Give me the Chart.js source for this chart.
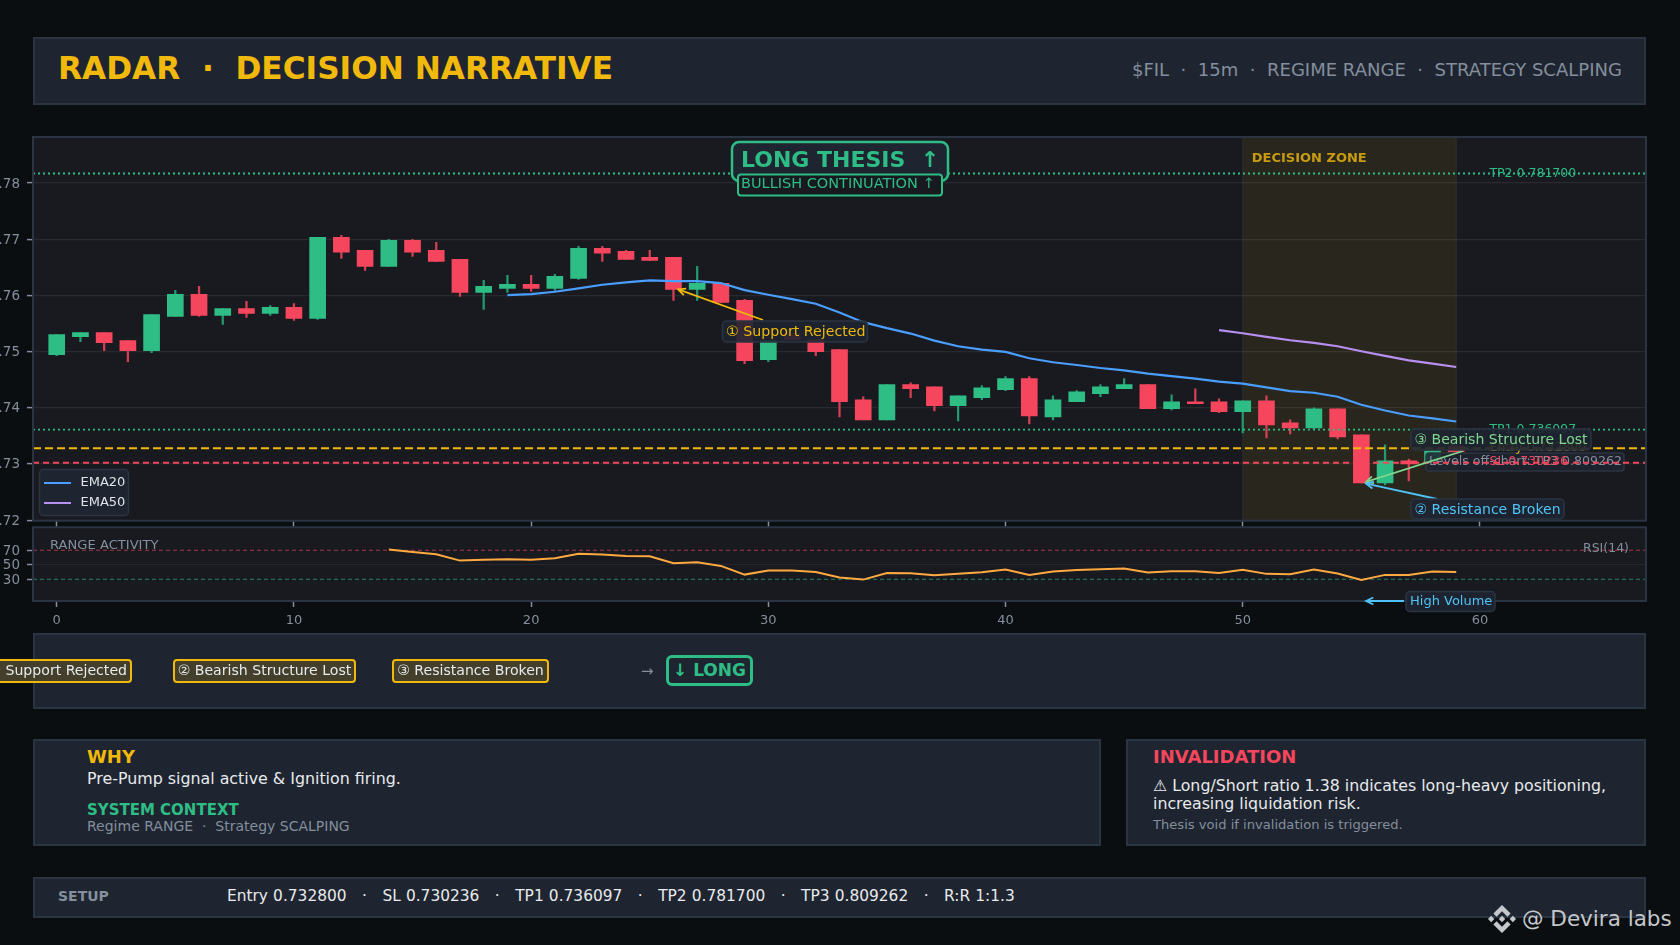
<!DOCTYPE html>
<html><head><meta charset="utf-8">
<script src="https://cdn.jsdelivr.net/npm/chart.js@4"></script>
<style>
html,body{margin:0;padding:0;width:1680px;height:945px;background:#0b0e11;overflow:hidden;font-family:"DejaVu Sans",sans-serif}
.card{position:absolute;box-sizing:border-box;background:#1e2530;border:2px solid #2b3442}
.t{position:absolute;white-space:pre;line-height:1;transform:translateY(-50%)}
canvas{position:absolute;left:0}
.pill{position:absolute;box-sizing:border-box;border:2px solid #f0b90b;border-radius:4px;background:#433f2b;color:#e8eaed;font-size:14.1px;display:flex;align-items:center;justify-content:center;white-space:pre;top:659px;height:24px;padding-bottom:2px}
</style></head><body>
<div class="card" style="left:33px;top:37px;width:1613px;height:68px"></div>
<div class="t" style="left:58px;top:69px;font-size:31.2px;font-weight:bold;color:#f0b90b">RADAR  ·  DECISION NARRATIVE</div>
<div class="t" style="right:58px;top:70px;font-size:18.05px;color:#848e9c">$FIL  ·  15m  ·  REGIME RANGE  ·  STRATEGY SCALPING</div>

<canvas id="main" width="1680" height="407" style="top:120px;width:1680px;height:407px"></canvas>
<canvas id="rsi" width="1680" height="115" style="top:520px;width:1680px;height:115px"></canvas>

<div class="card" style="left:33px;top:633px;width:1613px;height:76px"></div>
<div class="pill" style="left:-20px;width:152px;justify-content:flex-end;padding-right:3px">① Support Rejected</div>
<div class="pill" style="left:173px;width:183px">② Bearish Structure Lost</div>
<div class="pill" style="left:392px;width:157px">③ Resistance Broken</div>
<div class="t" style="left:641px;top:671px;font-size:15px;color:#848e9c">→</div>
<div class="pill" style="left:666px;top:655px;width:87px;height:31px;border:3px solid #2ebd85;border-radius:6px;background:#1e2530;color:#2ebd85;font-weight:bold;font-size:17px;padding-bottom:1px">↓ LONG</div>

<div class="card" style="left:33px;top:739px;width:1068px;height:107px"></div>
<div class="t" style="left:87px;top:757px;font-size:18px;font-weight:bold;color:#f0b90b">WHY</div>
<div class="t" style="left:87px;top:779px;font-size:15.85px;color:#e8eaed">Pre-Pump signal active &amp; Ignition firing.</div>
<div class="t" style="left:87px;top:810px;font-size:15px;font-weight:bold;color:#2ebd85">SYSTEM CONTEXT</div>
<div class="t" style="left:87px;top:826px;font-size:14px;color:#848e9c">Regime RANGE  ·  Strategy SCALPING</div>

<div class="card" style="left:1126px;top:739px;width:520px;height:107px"></div>
<div class="t" style="left:1153px;top:757px;font-size:18px;font-weight:bold;color:#f6465d">INVALIDATION</div>
<div class="t" style="left:1153px;top:786px;font-size:15.8px;color:#e8eaed">⚠ Long/Short ratio 1.38 indicates long-heavy positioning,</div>
<div class="t" style="left:1153px;top:804px;font-size:15.8px;color:#e8eaed">increasing liquidation risk.</div>
<div class="t" style="left:1153px;top:825px;font-size:13.1px;color:#848e9c">Thesis void if invalidation is triggered.</div>

<div class="card" style="left:33px;top:877px;width:1613px;height:41px"></div>
<div class="t" style="left:58px;top:896px;font-size:14px;font-weight:bold;color:#848e9c">SETUP</div>
<div class="t" style="left:227px;top:897px;font-size:15.4px;word-spacing:.27px;color:#e8eaed">Entry 0.732800   ·   SL 0.730236   ·   TP1 0.736097   ·   TP2 0.781700   ·   TP3 0.809262   ·   R:R 1:1.3</div>

<svg style="position:absolute;left:1488px;top:905px" width="28" height="28" viewBox="0 0 126.61 126.61"><path fill="#c4c8cc" d="M38.73 53.2l24.59-24.58 24.6 24.6 14.3-14.31L63.32 0 24.43 38.89 38.73 53.2zM0 63.31l14.3-14.31 14.31 14.31-14.31 14.3zM38.73 73.41l24.59 24.59 24.6-24.6 14.31 14.29-38.9 38.91-38.91-38.88-.02-.02 14.33-14.29zM98.01 63.31l14.3-14.3 14.3 14.3-14.3 14.3zM77.83 63.3L63.32 48.78 52.59 59.51l-1.24 1.23-2.54 2.54 14.51 14.5 14.5-14.47.01-.01z"/></svg>
<div class="t" style="left:1522px;top:919px;font-size:21.5px;color:#c4c8cc">@ Devira labs</div>

<script>
const opens=[.74946,.75268,.75339,.75196,.75018,.75625,.76018,.75643,.75768,.75679,.75786,.75589,.77036,.76804,.76518,.76982,.76804,.76643,.76054,.76125,.76196,.76125,.76304,.76839,.76786,.76679,.76679,.76107,.76214,.75911,.74857,.75321,.75214,.75036,.74143,.73786,.74411,.74375,.74036,.74179,.74321,.74518,.73839,.74107,.7425,.74339,.74411,.73982,.74107,.74107,.73929,.74125,.73732,.73643,.73982,.73518,.72661,.73054,.73012,.73321];
const closes=[.75304,.75339,.75161,.75018,.75661,.76018,.75643,.75768,.75679,.75786,.75589,.77036,.76768,.76518,.76982,.76768,.76607,.76054,.76161,.76196,.76125,.76339,.76839,.7675,.76643,.76625,.76107,.76214,.75875,.74839,.75202,.75214,.75,.74107,.73786,.74411,.74339,.74036,.74214,.74357,.74518,.73857,.74143,.74286,.74375,.74411,.73982,.74107,.74071,.73929,.74125,.73696,.73643,.73982,.73482,.72661,.73054,.73,.73232,.73214];
const highs=[.75304,.75339,.75339,.75196,.75661,.76089,.76161,.75768,.75893,.75821,.75857,.77036,.77071,.76804,.77,.77,.76946,.76643,.76268,.76357,.76357,.76375,.76875,.76875,.76804,.76804,.76679,.76518,.76214,.75929,.75202,.75321,.75214,.75036,.74196,.74411,.74446,.74375,.74214,.74393,.74554,.74554,.74214,.74304,.74411,.74518,.74411,.74232,.74339,.74161,.74125,.74214,.73786,.74,.73982,.73518,.73339,.73089,.73232,.73321];
const lows=[.74929,.75179,.75018,.74821,.74982,.75625,.75625,.75482,.75607,.75643,.75554,.75571,.7666,.76446,.76518,.76696,.76607,.75982,.7575,.76054,.76071,.76089,.76286,.76607,.76643,.76625,.75911,.75911,.75875,.74786,.74821,.75214,.74929,.73839,.73786,.73786,.74179,.73946,.73768,.74143,.74304,.73714,.73786,.74107,.74196,.74339,.73982,.73964,.74071,.73911,.73554,.73464,.73536,.73625,.73446,.72661,.72625,.72696,.73012,.73214];
const ema20Start=19;
const ema20=[.76006,.76024,.76065,.76125,.7619,.76232,.76268,.76256,.76256,.7622,.76095,.76012,.75935,.75851,.75696,.75524,.75417,.75321,.75196,.75095,.75036,.74994,.74881,.7481,.74762,.74708,.74667,.74607,.74565,.74518,.74464,.74429,.74363,.74298,.74268,.74196,.74054,.73952,.73863,.7381,.73756];
const ema50Start=49;
const ema50=[.75381,.75327,.75262,.75202,.75155,.75095,.75006,.74923,.74845,.74786,.74726];
const rsiStart=14;
const rsiValues=[71,67.7,64.5,55.7,56.7,57.6,56.7,59,65,64,62.2,61.7,52,53.4,48.4,36.4,42,42,40,32.3,29.5,38.7,38.3,35.5,37.4,39.7,43.3,36,40.6,42.9,43.8,44.7,39.2,41,41,38.7,42.9,37.4,36.9,43.3,37.8,29,36,36,40.6,40];
const levelNames=["TP2","TP1","Entry","SL"];
const levelValues=[0.7817,0.736097,0.7328,0.730236];
const xTicks=[0,10,20,30,40,50,60];
const yTicks=[.72,.73,.74,.75,.76,.77,.78];
const rsiTicks=[30,50,70];
const rsiLevels=[70,30];
const zoneRange=[50,59];

const GREEN='#2ebd85',RED='#f6465d',YEL='#f0b90b',GRAY='#848e9c',SPINE='#2b3442',PANEL='#181a20';
const levelColors=[GREEN,GREEN,YEL,RED];
const levelDash=[[2,3],[2,3],[8,4],[6,4]];
const levelOffsets=[0,0,0,-1];
Chart.defaults.font.family='"DejaVu Sans"';
const isUp=i=>closes[i]>=opens[i];
const candleColor=c=>isUp(c.dataIndex)?GREEN:RED;
const wickColor=c=>isUp(c.dataIndex)?'#239a6d':'#d63e53';
const noPad=s=>{s.paddingTop=0;s.paddingBottom=0;s.paddingLeft=0;s.paddingRight=0;};

function rr(ctx,x,y,w,h,r){ctx.beginPath();ctx.roundRect(x,y,w,h,r);}
function box(ctx,x,y,w,h,r,fill,stroke,lw){rr(ctx,x,y,w,h,r);ctx.fillStyle=fill;ctx.fill();if(stroke){ctx.strokeStyle=stroke;ctx.lineWidth=lw;ctx.stroke();}}
function text(ctx,s,x,y,color,font){ctx.font=font;ctx.fillStyle=color;ctx.textAlign='left';ctx.textBaseline='middle';ctx.fillText(s,x,y);}
function arrow(ctx,x0,y0,x1,y1,color){
  ctx.strokeStyle=color;ctx.lineWidth=1.8;ctx.beginPath();ctx.moveTo(x0,y0);ctx.lineTo(x1,y1);ctx.stroke();
  const a=Math.atan2(y0-y1,x0-x1),l=8,s=.45;
  ctx.beginPath();ctx.moveTo(x1+l*Math.cos(a+s),y1+l*Math.sin(a+s));ctx.lineTo(x1,y1);ctx.lineTo(x1+l*Math.cos(a-s),y1+l*Math.sin(a-s));ctx.stroke();
}
const panelFrame={id:'panelFrame',
  beforeDraw(ch){const a=ch.chartArea,c=ch.ctx;c.fillStyle=PANEL;c.fillRect(a.left,a.top,a.width,a.height);},
  afterDatasetsDraw(ch){const a=ch.chartArea,c=ch.ctx;c.strokeStyle=SPINE;c.lineWidth=2;c.strokeRect(a.left,a.top,a.width,a.height);}};

const OFF=120; // page y of the main canvas
const overlay={id:'overlay',
  beforeDatasetsDraw(ch){
    const c=ch.ctx,a=ch.chartArea,xs=ch.scales.x;
    const x0=xs.getPixelForValue(zoneRange[0]),x1=xs.getPixelForValue(zoneRange[1]);
    c.fillStyle='rgba(240,185,11,0.08)';c.fillRect(x0,a.top,x1-x0,a.height);
    c.strokeStyle='rgba(255,255,255,0.07)';c.lineWidth=1;
    c.beginPath();c.moveTo(x0,a.top);c.lineTo(x0,a.bottom);c.moveTo(x1,a.top);c.lineTo(x1,a.bottom);c.stroke();
  },
  afterDatasetDraw(ch,args){
    if(args.meta.order!==3)return;
    const c=ch.ctx;
    box(c,1426,453-OFF,198,18,3,'rgba(30,37,48,0.85)',SPINE,1.5);
    text(c,'Levels off-chart: TP3 0.809262',1429,462-OFF,GRAY,'12.6px "DejaVu Sans"');
  },
  afterDraw(ch){
    const c=ch.ctx,xs=ch.scales.x,ys=ch.scales.y;
    const f=(s,b)=>(b?'bold ':'')+s+'px "DejaVu Sans"';
    levelNames.forEach((n,i)=>{
      text(c,n+' '+levelValues[i].toFixed(6),xs.getPixelForValue(60.4),ys.getPixelForValue(levelValues[i])+levelOffsets[i],levelColors[i],f(12.5));
    });
    const tipS=[xs.getPixelForValue(26.2),ys.getPixelForValue(.76107)];
    const tipB=[xs.getPixelForValue(55.2),ys.getPixelForValue(.7268)];
    const tipR=[xs.getPixelForValue(55.2),ys.getPixelForValue(.7265)];
    c.save();c.translate(0,-OFF);
    const T=p=>[p[0],p[1]+OFF];
    text(c,'DECISION ZONE',xs.getPixelForValue(zoneRange[0])+9,159,'rgba(240,185,11,0.8)',f(13,true));
    box(c,732,142,216,39,7,'#1e2530',GREEN,2.5);
    text(c,'LONG THESIS  ↑',741,161,GREEN,f(22,true));
    box(c,738,174.5,204,21,3,PANEL,GREEN,2);
    text(c,'BULLISH CONTINUATION ↑',741,184,GREEN,f(14.5));
    box(c,39.5,469.5,89,46,4,'#1e2530',SPINE,1.5);
    c.lineWidth=2;
    [['EMA20','#4a9eff',483],['EMA50','#b78ff0',503]].forEach(([n,col,y])=>{
      c.strokeStyle=col;c.beginPath();c.moveTo(44,y);c.lineTo(71,y);c.stroke();
      text(c,n,80.5,y,'#e0e3e8',f(13));
    });
    arrow(c,763,320,...T(tipS),YEL);
    box(c,722.5,321,145,21,4,'rgba(30,37,48,0.9)',SPINE,1.5);
    text(c,'① Support Rejected',726,332.5,YEL,f(14.2));
    arrow(c,1463,451,...T(tipB),'#81d68f');
    box(c,1411,429,180,21,4,'rgba(30,37,48,0.9)',SPINE,1.5);
    text(c,'③ Bearish Structure Lost',1414.5,440.5,'#81d68f',f(14.05));
    arrow(c,1437,499,...T(tipR),'#4fc3f7');
    box(c,1411,499,153,20,4,'rgba(30,37,48,0.9)',SPINE,1.5);
    text(c,'② Resistance Broken',1414.5,510,'#4fc3f7',f(14.05));
    c.restore();
  }};

new Chart(document.getElementById('main'),{
  type:'bar',
  data:{datasets:[
    ...levelValues.map((v,i)=>({type:'line',label:levelNames[i],data:[{x:-1,y:v},{x:67,y:v}],borderColor:levelColors[i],borderWidth:i<2?1.8:2,borderDash:levelDash[i],pointRadius:0,order:1})),
    {type:'line',label:'EMA20',data:ema20.map((v,i)=>({x:i+ema20Start,y:v})),borderColor:'#4a9eff',borderWidth:2.2,pointRadius:0,tension:0,order:2},
    {type:'line',label:'EMA50',data:ema50.map((v,i)=>({x:i+ema50Start,y:v})),borderColor:'#b78ff0',borderWidth:2.2,pointRadius:0,tension:0,order:2},
    {label:'body',data:opens.map((o,i)=>({x:i,y:[o,closes[i]]})),backgroundColor:candleColor,barThickness:16,grouped:false,order:3},
    {label:'wick',data:lows.map((l,i)=>({x:i,y:[l,highs[i]]})),backgroundColor:wickColor,barThickness:1.6,grouped:false,order:4}
  ]},
  options:{responsive:false,animation:false,devicePixelRatio:1,
    layout:{padding:{top:17,right:34,left:0,bottom:0}},
    plugins:{legend:{display:false},tooltip:{enabled:false}},
    scales:{
      x:{type:'linear',min:-1,max:67,offset:false,
        afterBuildTicks:s=>{s.ticks=xTicks.map(v=>({value:v}));},
        afterFit:s=>{s.height=6.3;noPad(s);},
        grid:{offset:false,drawOnChartArea:false,drawTicks:true,tickLength:6,tickColor:GRAY,tickWidth:1.5},border:{display:false},
        ticks:{display:false}},
      y:{min:.7199,max:.7882,
        afterBuildTicks:s=>{s.ticks=yTicks.map(v=>({value:v}));},
        afterFit:s=>{s.width=33;noPad(s);},
        grid:{color:'rgba(255,255,255,0.07)',lineWidth:1.2,tickLength:6,tickColor:GRAY,tickWidth:1.5},border:{display:false},
        ticks:{color:GRAY,font:{size:13.5},padding:7,labelOffset:1,callback:v=>v.toFixed(2)}}
    }},
  plugins:[panelFrame,overlay]
});

const rsiOverlay={id:'rsiOverlay',afterDraw(ch){
  const c=ch.ctx,xs=ch.scales.x,ys=ch.scales.y;
  text(c,'RANGE ACTIVITY',50,26,GRAY,'13.1px "DejaVu Sans"');
  text(c,'RSI(14)',1583,29,GRAY,'12.5px "DejaVu Sans"');
  const yy=ys.getPixelForValue(0);
  arrow(c,1404,yy,xs.getPixelForValue(55.2),yy,'#4fc3f7');
  box(c,1406,71.5,89,20,4,'rgba(30,37,48,0.95)',SPINE,1.5);
  text(c,'High Volume',1410,81.5,'#4fc3f7','13px "DejaVu Sans"');
}};
new Chart(document.getElementById('rsi'),{
  type:'line',
  data:{datasets:[
    {label:'RSI 70',data:[{x:-1,y:rsiLevels[0]},{x:67,y:rsiLevels[0]}],borderColor:'rgba(246,70,93,0.65)',borderWidth:1.1,borderDash:[4,3],pointRadius:0,order:2},
    {label:'RSI 30',data:[{x:-1,y:rsiLevels[1]},{x:67,y:rsiLevels[1]}],borderColor:'rgba(46,189,133,0.65)',borderWidth:1.1,borderDash:[4,3],pointRadius:0,order:2},
    {label:'RSI(14)',data:rsiValues.map((v,i)=>({x:i+rsiStart,y:v})),borderColor:'#ffa940',borderWidth:2,pointRadius:0,tension:0,order:1}
  ]},
  options:{responsive:false,animation:false,devicePixelRatio:1,
    layout:{padding:{top:7.3,right:34,left:0,bottom:0}},
    plugins:{legend:{display:false},tooltip:{enabled:false}},
    scales:{
      x:{type:'linear',min:-1,max:67,
        afterBuildTicks:s=>{s.ticks=xTicks.map(v=>({value:v}));},
        afterFit:s=>{s.height=34;noPad(s);},
        grid:{drawOnChartArea:false,drawTicks:true,tickLength:6,tickColor:GRAY,tickWidth:1.5},border:{display:false},
        ticks:{color:GRAY,font:{size:13},padding:5.5,autoSkip:false,maxRotation:0}},
      y:{min:0,max:101.6,
        afterBuildTicks:s=>{s.ticks=rsiTicks.map(v=>({value:v}));},
        afterFit:s=>{s.width=33;noPad(s);},
        grid:{color:c=>c.tick&&c.tick.value===50?'rgba(255,255,255,0.06)':'rgba(0,0,0,0)',tickLength:6,tickColor:GRAY,tickWidth:1.5},border:{display:false},
        ticks:{color:GRAY,font:{size:13.5},padding:7,labelOffset:1}}
    }},
  plugins:[panelFrame,rsiOverlay]
});
</script>
</body></html>
